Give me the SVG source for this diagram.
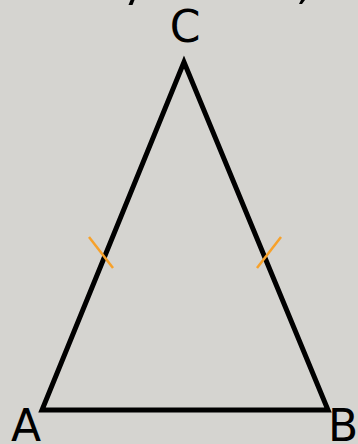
<svg xmlns="http://www.w3.org/2000/svg" width="358" height="444" viewBox="0 0 358 444">
<style>
.lbl{font-family:"DejaVu Sans",sans-serif;font-size:44px;fill:#000}
.side{stroke:#000;stroke-width:5;fill:none;stroke-linejoin:miter}
.tick{stroke:#f7a12a;stroke-width:2.5;fill:none}
</style>
<rect width="358" height="444" fill="#d5d4d0"/>
<path d="M130.5,0 L134.5,0 L132.5,5 L128.5,5 Z" fill="#000"/>
<path d="M301,0 L305,0 L302,4 L299,4 Z" fill="#000"/>
<g id="connectors">
<path class="side" d="M42,410 L328,410 L184,62 Z"/>
<line class="tick" x1="89" y1="237" x2="113" y2="268"/>
<line class="tick" x1="257" y1="268" x2="281" y2="237"/>
</g>
<g id="A"><text class="lbl" x="11" y="441">A</text></g>
<g id="B"><text class="lbl" x="328" y="441">B</text></g>
<g id="C"><text class="lbl" x="185" y="42" text-anchor="middle">C</text></g>
</svg>
